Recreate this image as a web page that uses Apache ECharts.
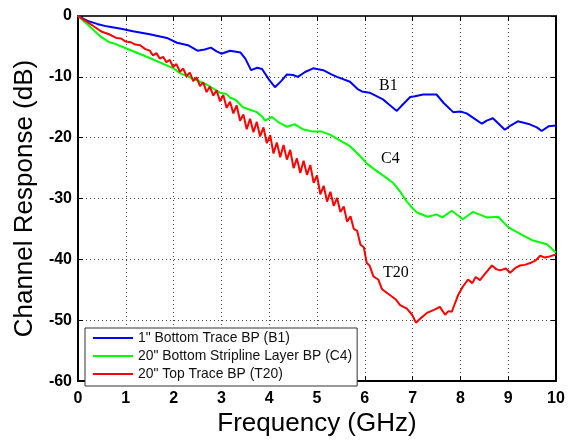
<!DOCTYPE html>
<html><head><meta charset="utf-8">
<script src="https://cdn.jsdelivr.net/npm/echarts@6/dist/echarts.min.js"></script>
<style>html,body{margin:0;padding:0;background:#fff}#c{width:571px;height:442px}</style>
</head><body><div id="c"></div>
<script>
const xTicks = [0,1,2,3,4,5,6,7,8,9,10];
const yTicks = [-60,-50,-40,-30,-20,-10,0];
const seriesNames = ['1" Bottom Trace BP (B1)', '20" Bottom Stripline Layer BP (C4)', '20" Top Trace BP (T20)'];
const curveLabels = ['B1','C4','T20'];

const b1 = [[0,0],[0.2,-0.8],[0.4,-1.3],[0.6,-1.7],[0.9,-2.1],[1.15,-2.5],[1.5,-3.0],[1.86,-3.6],[2.07,-4.4],[2.3,-4.8],[2.5,-5.7],[2.65,-5.5],[2.78,-5.2],[2.9,-5.8],[3.0,-6.2],[3.18,-5.7],[3.4,-6.0],[3.5,-7.0],[3.62,-8.9],[3.75,-8.5],[3.85,-8.7],[4.0,-10.5],[4.12,-11.7],[4.25,-10.7],[4.37,-9.6],[4.5,-9.7],[4.6,-10.0],[4.75,-9.2],[4.92,-8.6],[5.13,-8.9],[5.3,-9.6],[5.42,-10.0],[5.69,-10.8],[5.85,-12.0],[5.94,-12.4],[6.1,-12.6],[6.38,-13.7],[6.5,-14.5],[6.67,-15.6],[6.8,-14.5],[6.95,-13.3],[7.05,-13.2],[7.22,-12.9],[7.5,-12.9],[7.65,-14.3],[7.85,-15.8],[8.0,-15.7],[8.13,-16.0],[8.3,-16.9],[8.45,-17.7],[8.55,-17.2],[8.68,-16.8],[8.8,-17.7],[8.93,-18.7],[9.05,-18.0],[9.2,-17.3],[9.45,-17.8],[9.6,-18.3],[9.7,-18.9],[9.85,-18.1],[10,-18.0]];

const c4 = [[0,0],[0.2,-1.4],[0.46,-3.3],[0.65,-4.3],[0.75,-4.5],[1.0,-5.3],[1.5,-6.9],[2.0,-8.6],[2.13,-9.4],[2.5,-10.6],[2.7,-11.3],[2.97,-12.6],[3.1,-12.8],[3.18,-13.4],[3.3,-13.8],[3.45,-15.0],[3.6,-15.4],[3.74,-15.8],[3.85,-16.5],[3.91,-17.2],[4.06,-16.6],[4.2,-17.5],[4.37,-18.2],[4.54,-17.8],[4.7,-18.6],[4.92,-19.0],[5.1,-19.0],[5.27,-19.5],[5.45,-20.3],[5.69,-21.4],[5.9,-23.0],[6.05,-24.3],[6.2,-25.2],[6.38,-26.2],[6.59,-27.4],[6.75,-29.0],[6.88,-30.5],[6.99,-31.5],[7.09,-32.3],[7.32,-33.0],[7.5,-32.6],[7.62,-33.1],[7.82,-32.0],[8.05,-33.4],[8.26,-32.2],[8.55,-33.1],[8.79,-33.0],[9.0,-34.7],[9.25,-35.8],[9.52,-36.9],[9.81,-37.5],[10,-38.9]];

const t20 = [[0,0],[0.1,-0.5],[0.2,-1.0],[0.35,-1.8],[0.5,-2.6],[0.65,-3.0],[0.8,-3.6],[0.9,-3.7],[1.0,-4.2],[1.1,-4.3],[1.2,-4.7],[1.3,-4.8],[1.4,-5.4],
[1.5,-5.7],[1.57,-6.5],[1.64,-6.1],[1.71,-7.0],[1.78,-6.7],[1.85,-7.6],[1.92,-7.2],[1.99,-8.4],[2.06,-7.9],[2.13,-9.2],[2.2,-8.6],[2.27,-9.9],[2.34,-9.3],[2.41,-10.7],[2.48,-10.1],[2.55,-11.5],[2.62,-10.9],[2.69,-12.5],[2.76,-11.6],[2.83,-13.1],[2.9,-12.2],[2.97,-14.0],[3.04,-13.0],[3.11,-15.1],[3.18,-14.1],[3.25,-16.0],[3.32,-14.7],[3.39,-17.2],[3.46,-16.2],[3.53,-18.6],[3.6,-16.9],[3.67,-19.1],[3.74,-17.4],[3.81,-19.8],[3.88,-18.3],[3.95,-20.9],[4.02,-19.6],[4.09,-22.6],[4.16,-20.8],[4.23,-23.2],[4.3,-21.2],[4.37,-23.6],[4.44,-22.0],[4.51,-25.0],[4.58,-23.4],[4.65,-25.8],[4.72,-23.8],[4.79,-26.1],[4.86,-24.5],[4.93,-27.4],[5.0,-26.2],[5.07,-29.3],[5.14,-27.9],[5.21,-30.5],[5.28,-28.9],[5.35,-31.2],[5.42,-29.9],[5.49,-32.2],[5.56,-31.3],[5.63,-33.8],[5.7,-32.9],[5.77,-35.0],[5.84,-35.3],[5.91,-37.6],[5.98,-38.0],
[6.04,-40.6],[6.1,-41.0],[6.18,-42.8],[6.28,-43.3],[6.36,-44.9],[6.53,-45.9],[6.65,-46.6],[6.74,-47.5],[6.88,-48.1],[6.99,-49.1],[7.07,-50.4],[7.15,-49.8],[7.3,-48.8],[7.45,-48.3],[7.57,-47.8],[7.68,-49.1],[7.75,-48.5],[7.82,-48.6],[7.95,-45.9],[8.05,-44.5],[8.16,-43.3],[8.25,-43.9],[8.32,-42.9],[8.41,-43.4],[8.5,-42.5],[8.66,-41.0],[8.75,-41.6],[8.83,-41.8],[8.95,-41.5],[9.04,-42.2],[9.15,-41.4],[9.25,-41.0],[9.35,-40.9],[9.46,-40.6],[9.57,-40.2],[9.67,-39.4],[9.77,-39.7],[9.87,-39.5],[10,-39.2]];

const chart = echarts.init(document.getElementById('c'), null, {renderer:'canvas'});
const sans = 'Liberation Sans, Arial, sans-serif';
const tickFont = {color:'#000', fontFamily:sans, fontSize:16, fontWeight:'bold'};
const split = {show:true, lineStyle:{color:'#444', type:[1,3], width:1}};
const lineCol = ['#0000ff','#00ff00','#ff0000'];
const datas = [b1,c4,t20];
const serif = '16px "Liberation Serif", "Times New Roman", serif';
chart.setOption({
  animation:false,
  backgroundColor:'#fff',
  grid:{left:78, right:15, top:16, bottom:51, containLabel:false},
  xAxis:[
    {type:'value', min:0, max:10, interval:1, position:'bottom',
     axisLine:{show:true, onZero:false, lineStyle:{color:'#000', width:2}},
     axisTick:{show:true, inside:true, length:5, lineStyle:{color:'#000', width:1}},
     axisLabel:{...tickFont, margin:9, formatter:v=>String(v)},
     splitLine:split,
     name:'Frequency (GHz)', nameLocation:'middle', nameGap:25,
     nameTextStyle:{color:'#000', fontFamily:sans, fontSize:26}},
    {type:'value', min:0, max:10, interval:1, position:'top',
     axisLine:{show:true, onZero:false, lineStyle:{color:'#333', width:2}},
     axisTick:{show:true, inside:true, length:5, lineStyle:{color:'#000', width:1}},
     axisLabel:{show:false}, splitLine:{show:false}}
  ],
  yAxis:[
    {type:'value', min:-60, max:0, interval:10, position:'left',
     axisLine:{show:true, onZero:false, lineStyle:{color:'#000', width:2}},
     axisTick:{show:true, inside:true, length:5, lineStyle:{color:'#000', width:1}},
     axisLabel:{...tickFont, margin:6},
     splitLine:split,
     name:'Channel Response (dB)', nameLocation:'middle', nameGap:38, nameRotate:90,
     nameTextStyle:{color:'#000', fontFamily:sans, fontSize:26}},
    {type:'value', min:-60, max:0, interval:10, position:'right',
     axisLine:{show:true, onZero:false, lineStyle:{color:'#000', width:2}},
     axisTick:{show:true, inside:true, length:5, lineStyle:{color:'#000', width:1}},
     axisLabel:{show:false}, splitLine:{show:false}}
  ],
  legend:{
    orient:'vertical', left:85, top:328,
    backgroundColor:'#fff', borderColor:'#333', borderWidth:1,
    padding:[3,5,5,8], itemGap:4, itemWidth:40, itemHeight:2, itemTextGap:4,
    icon:'rect',
    textStyle:{color:'#111', fontFamily:sans, fontSize:13.9, lineHeight:14},
    data:seriesNames
  },
  series: seriesNames.map((n,i)=>({
    name:n, type:'line', data:datas[i], showSymbol:false, symbol:'none',
    lineStyle:{color:lineCol[i], width:2}, itemStyle:{color:lineCol[i]}, z:3+i
  })),
  graphic:[
    {type:'text', left:379, top:78, style:{text:curveLabels[0], font:serif, fill:'#000'}},
    {type:'text', left:381, top:151, style:{text:curveLabels[1], font:serif, fill:'#000'}},
    {type:'text', left:383, top:265, style:{text:curveLabels[2], font:serif, fill:'#000'}}
  ]
});
</script></body></html>
